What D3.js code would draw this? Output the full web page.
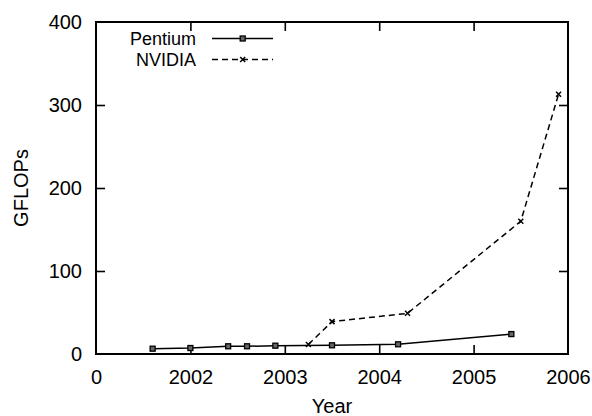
<!DOCTYPE html>
<html>
<head>
<meta charset="utf-8">
<script src="https://cdn.jsdelivr.net/npm/d3@7"></script>
<style>
html,body{margin:0;padding:0;background:#fff;}
svg{display:block;font-family:"Liberation Sans",Arial,sans-serif;}
</style>
</head>
<body>
<svg id="chart" width="592" height="416"></svg>
<script>
// ---- data ----
const pentiumYears = [2001.6, 2002.0, 2002.4, 2002.6, 2002.9, 2003.5, 2004.2, 2005.4];
const pentiumGflops = [6.4, 7.2, 9.3, 9.3, 10, 10.5, 11.7, 24];
const nvidiaYears = [2003.25, 2003.5, 2004.3, 2005.5, 2005.9];
const nvidiaGflops = [11.5, 39, 49, 160, 313];
const xTickValues = [2001, 2002, 2003, 2004, 2005, 2006];
const xTickLabels = ["0", "2002", "2003", "2004", "2005", "2006"];
const yTickValues = [0, 100, 200, 300, 400];
const yTickLabels = ["0", "100", "200", "300", "400"];
const seriesNames = ["Pentium", "NVIDIA"];

// ---- layout ----
const L = 96, R = 568, T = 22, B = 354;
const svg = d3.select("#chart");
const x = d3.scaleLinear().domain([2001, 2006]).range([L, R]);
const y = d3.scaleLinear().domain([0, 400]).range([B, T]);
const fs = 20;

function styleAxis(g, labels) {
  g.select(".domain").remove();
  g.selectAll(".tick line").attr("stroke", "#000").attr("stroke-width", 1.6);
  g.selectAll(".tick text").attr("fill", "#000").style("font-size", fs + "px")
    .style("font-family", '"Liberation Sans", Arial, sans-serif');
  if (!labels) g.selectAll(".tick text").remove();
}

const inner = xTickValues.slice(1, -1);
const innerY = yTickValues.slice(1, -1);

// bottom axis with labels
svg.append("g").attr("transform", `translate(0,${B})`)
  .call(d3.axisBottom(x).tickValues(xTickValues)
    .tickFormat((d, i) => xTickLabels[i]).tickSizeInner(-9).tickSizeOuter(0).tickPadding(16))
  .call(g => {
    styleAxis(g, true);
    g.selectAll(".tick").filter(d => d === 2001 || d === 2006).select("line").remove();
  });
// top mirror ticks
svg.append("g").attr("transform", `translate(0,${T})`)
  .call(d3.axisTop(x).tickValues(inner).tickSizeInner(-9).tickSizeOuter(0))
  .call(g => styleAxis(g, false));
// left axis
svg.append("g").attr("transform", `translate(${L},0)`)
  .call(d3.axisLeft(y).tickValues(yTickValues)
    .tickFormat((d, i) => yTickLabels[i]).tickSizeInner(-9).tickSizeOuter(0).tickPadding(14))
  .call(g => {
    styleAxis(g, true);
    g.selectAll(".tick").filter(d => d === 0 || d === 400).select("line").remove();
  });
// right mirror ticks
svg.append("g").attr("transform", `translate(${R},0)`)
  .call(d3.axisRight(y).tickValues(innerY).tickSizeInner(-9).tickSizeOuter(0))
  .call(g => styleAxis(g, false));

// frame
svg.append("rect").attr("x", L).attr("y", T).attr("width", R - L).attr("height", B - T)
  .attr("fill", "none").attr("stroke", "#000").attr("stroke-width", 2);

// axis titles
svg.append("text").attr("x", (L + R) / 2).attr("y", 413).attr("text-anchor", "middle")
  .style("font-size", fs + "px").text("Year");
svg.append("text").attr("transform", `translate(28,${(T + B) / 2}) rotate(-90)`)
  .attr("text-anchor", "middle").style("font-size", fs + "px").text("GFLOPs");

// series
const line = d3.line().x(d => x(d[0])).y(d => y(d[1]));
const pData = pentiumYears.map((v, i) => [v, pentiumGflops[i]]);
const nData = nvidiaYears.map((v, i) => [v, nvidiaGflops[i]]);

svg.append("path").datum(pData).attr("d", line).attr("fill", "none")
  .attr("stroke", "#000").attr("stroke-width", 1.5);
svg.append("path").datum(nData).attr("d", line).attr("fill", "none")
  .attr("stroke", "#000").attr("stroke-width", 1.5).attr("stroke-dasharray", "6,4");

function square(g, cx, cy) {
  g.append("rect").attr("x", cx - 2.5).attr("y", cy - 2.5).attr("width", 5).attr("height", 5)
    .attr("fill", "#666").attr("stroke", "#000").attr("stroke-width", 1.3);
}
function cross(g, cx, cy) {
  const s = 2.5;
  g.append("path").attr("d", `M${cx - s},${cy - s}L${cx + s},${cy + s}M${cx - s},${cy + s}L${cx + s},${cy - s}`)
    .attr("stroke", "#000").attr("stroke-width", 1.5).attr("fill", "none");
}
const mk = svg.append("g");
pData.forEach(d => square(mk, x(d[0]), y(d[1])));
nData.forEach(d => cross(mk, x(d[0]), y(d[1])));

// legend
const lfs = 18;
const leg = svg.append("g");
const legRows = [{name: seriesNames[0], base: 44.5, ly: 38.5, dash: null, m: square},
                 {name: seriesNames[1], base: 65.5, ly: 59.5, dash: "6,4", m: cross}];
legRows.forEach(r => {
  leg.append("text").attr("x", 196).attr("y", r.base).attr("text-anchor", "end")
    .style("font-size", lfs + "px").text(r.name);
  leg.append("line").attr("x1", 212).attr("x2", 273).attr("y1", r.ly).attr("y2", r.ly)
    .attr("stroke", "#000").attr("stroke-width", 1.5).attr("stroke-dasharray", r.dash);
  r.m(leg, 242.7, r.ly);
});
</script>
</body>
</html>
